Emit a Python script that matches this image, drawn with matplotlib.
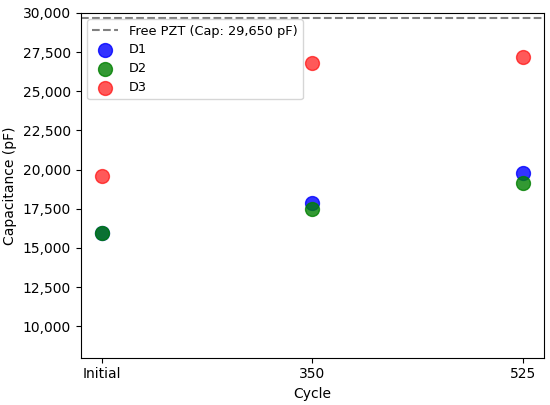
import numpy as np
import matplotlib.pyplot as plt
from matplotlib.ticker import FuncFormatter

# Capacitance (pF)
cycles = ['Initial', '350', '525']
d1 = [15950, 17900, 19800]
d2 = [15950, 17500, 19150]
d3 = [19600, 26800, 27200]
free_pzt = 29650

x = np.arange(len(cycles))

fig = plt.figure(figsize=(5.5, 4.05), dpi=100)
ax = fig.add_axes([0.147, 0.117, 0.842, 0.851])

ax.axhline(free_pzt, color='gray', linestyle='--', label='Free PZT (Cap: 29,650 pF)')
ax.scatter(x, d1, s=100, color='blue', alpha=0.8, label='D1')
ax.scatter(x, d2, s=100, color='green', alpha=0.8, label='D2')
ax.scatter(x, d3, s=100, color='red', alpha=0.65, label='D3')

ax.set_xticks(x)
ax.set_xticklabels(cycles)
ax.set_xlim(-0.1, 2.1)
ax.set_ylim(8000, 30000)
ax.set_yticks(np.arange(10000, 30001, 2500))
ax.yaxis.set_major_formatter(FuncFormatter(lambda v, p: f'{int(v):,}'))
ax.set_xlabel('Cycle')
ax.set_ylabel('Capacitance (pF)')
ax.legend(loc='upper left', fontsize=9.3, labelspacing=0.45)

fig.savefig('out.png', dpi=100)
